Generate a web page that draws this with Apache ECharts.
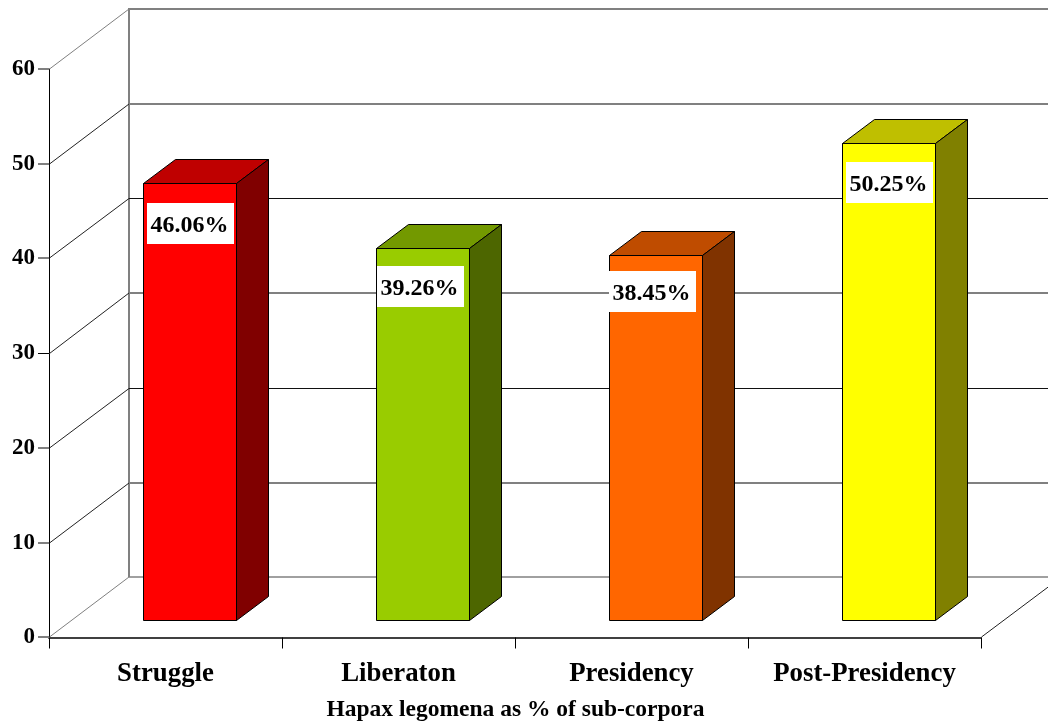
<!DOCTYPE html>
<html>
<head>
<meta charset="utf-8">
<style>html,body{margin:0;padding:0;background:#fff}#chart{width:1048px;height:722px}</style>
<script src="https://cdn.jsdelivr.net/npm/echarts@6/dist/echarts.min.js"></script>
</head>
<body>
<div id="chart"></div>
<script>
// Hapax legomena share per sub-corpus
var categories = ['Struggle', 'Liberaton', 'Presidency', 'Post-Presidency'];
var hapaxPercent = [46.06, 39.26, 38.45, 50.25];
var wallTicks = [0, 10, 20, 30, 40, 50, 60];

// Shades for each bar: front, top, side
var frontColors = ['#ff0000', '#99cc00', '#ff6600', '#ffff00'];
var topColors = ['#bf0000', '#739900', '#bf4c00', '#bfbf00'];
var sideColors = ['#800000', '#4d6600', '#803300', '#808000'];

// Stroke of each level's back-wall line, side-wall diagonal and axis tick
var wallLineColors = ['#a0a0a0', '#808080', '#111111', '#808080', '#111111', '#808080', '#808080'];
var wallLineWidths = [2, 2, 1, 2, 1, 2, 2];
var diagonalColors = ['#808080', '#222222', '#222222', '#222222', '#222222', '#222222', '#808080'];
var tickColors = ['#808080', '#808080', '#808080', '#000000', '#808080', '#808080', '#808080'];
var tickWidths = [2, 2, 2, 1, 2, 2, 2];

// Oblique projection of the chart box, in pixels
var boxDepthX = 80, boxDepthY = 60;
var barDepthX = 32, barDepthY = 24;
var barInsetX = 24.5, barInsetY = 17.5;
var barWidthRatio = 0.4;
var tickLength = 11;
var labelNudgeX = [4, 1, 0, 4];
var labelNudgeY = [20, 18, 16, 19];
var labelBoxW = 87, labelBoxH = 41;

var serif = '"Liberation Serif", "Times New Roman", serif';

function crisp(v) { return Math.floor(v) + 0.5; }

function line(x1, y1, x2, y2, color, width) {
  return {
    type: 'line',
    shape: { x1: x1, y1: y1, x2: x2, y2: y2 },
    style: { stroke: color, lineWidth: width || 1 }
  };
}

// Pixel-aligned centre for a horizontal stroke of the given width
function levelY(v, width) { return width === 2 ? Math.round(v - 0.1) : crisp(v); }

function renderWall(params, api) {
  var tick = api.value(0);
  var box = params.coordSys;
  var idx = params.dataIndex;
  var y = api.coord([0, tick])[1];
  var left = box.x, right = box.x + box.width;
  var backLeft = left + boxDepthX, backRight = right + boxDepthX, backY = y - boxDepthY;
  var wWall = wallLineWidths[idx], wTick = tickWidths[idx];
  var frontY = levelY(y, wTick), rearY = levelY(backY, wWall);
  var children = [
    line(left + 0.5, frontY, backLeft, rearY, diagonalColors[idx]),
    line(backLeft, rearY, backRight, rearY, wallLineColors[idx], wWall),
    line(left - tickLength, frontY, left, frontY, tickColors[idx], wTick)
  ];
  if (idx === 0) {
    children.push(line(right + 0.5, frontY, backRight + 0.5, rearY, '#222222'));
    var topY = api.coord([0, wallTicks[wallTicks.length - 1]])[1] - boxDepthY;
    children.push(line(backLeft, rearY, backLeft, levelY(topY, 2) - 1, '#808080', 2));
  }
  return { type: 'group', children: children };
}

function renderBar(params, api) {
  var i = api.value(0);
  var value = api.value(1);
  var center = api.coord([i, 0]);
  var halfW = api.size([1, 0])[0] * barWidthRatio / 2;
  var x0 = crisp(center[0] + barInsetX - halfW);
  var x1 = crisp(center[0] + barInsetX + halfW);
  var yBase = crisp(center[1] - barInsetY);
  var yTop = crisp(api.coord([i, value])[1] - barInsetY);
  function face(points, fill) {
    return {
      type: 'polygon',
      shape: { points: points },
      style: { fill: fill, stroke: '#000', lineWidth: 1, lineJoin: 'miter' }
    };
  }
  var boxX = x0 + labelNudgeX[i] - 0.5;
  var boxY = yTop + labelNudgeY[i] - 0.5;
  return {
    type: 'group',
    children: [
      face([[x0, yBase], [x1, yBase], [x1, yTop], [x0, yTop]], frontColors[i]),
      face([[x0, yTop], [x1, yTop], [x1 + barDepthX, yTop - barDepthY], [x0 + barDepthX, yTop - barDepthY]], topColors[i]),
      face([[x1, yBase], [x1 + barDepthX, yBase - barDepthY], [x1 + barDepthX, yTop - barDepthY], [x1, yTop]], sideColors[i]),
      {
        type: 'rect',
        shape: { x: boxX, y: boxY, width: labelBoxW, height: labelBoxH },
        style: { fill: '#ffffff' }
      },
      {
        type: 'text',
        style: {
          text: value.toFixed(2) + '%',
          x: boxX + labelBoxW / 2 - 1,
          y: boxY + labelBoxH / 2 + 2,
          align: 'center',
          verticalAlign: 'middle',
          fill: '#000',
          font: 'bold 24px ' + serif
        }
      }
    ]
  };
}

var chart = echarts.init(document.getElementById('chart'), null, { renderer: 'canvas' });
chart.setOption({
  animation: false,
  backgroundColor: '#ffffff',
  grid: { left: 49, right: 67, top: 69, bottom: 84.5, outerBoundsMode: 'none' },
  tooltip: { show: false },
  xAxis: {
    type: 'category',
    data: categories,
    boundaryGap: true,
    name: 'Hapax legomena as % of sub-corpora',
    nameLocation: 'middle',
    nameGap: 60.5,
    nameTextStyle: { fontFamily: serif, fontWeight: 'bold', fontSize: 23.5, color: '#000', padding: [0, 0, 0, 1] },
    axisLine: { show: true, lineStyle: { color: '#404040', width: 2 } },
    axisTick: { show: true, length: 11, lineStyle: { color: '#000', width: 1 } },
    axisLabel: { fontFamily: serif, fontWeight: 'bold', fontSize: 26.8, color: '#000', margin: 23, interval: 0 },
    splitLine: { show: false }
  },
  yAxis: {
    type: 'value',
    min: 0,
    max: 60,
    interval: 10,
    axisLine: { show: true, lineStyle: { color: '#000', width: 1 } },
    axisTick: { show: false },
    axisLabel: { fontFamily: serif, fontWeight: 'bold', fontSize: 23, color: '#000', margin: 14, padding: [6, 0, 0, 0] },
    splitLine: { show: false }
  },
  series: [
    {
      type: 'custom',
      coordinateSystem: 'cartesian2d',
      renderItem: renderWall,
      data: wallTicks.map(function (t) { return [t]; }),
      encode: { y: 0 },
      silent: true,
      z: 1
    },
    {
      type: 'custom',
      coordinateSystem: 'cartesian2d',
      renderItem: renderBar,
      data: hapaxPercent.map(function (v, i) { return [i, v]; }),
      encode: { x: 0, y: 1 },
      silent: true,
      z: 3
    }
  ]
});
</script>
</body>
</html>
